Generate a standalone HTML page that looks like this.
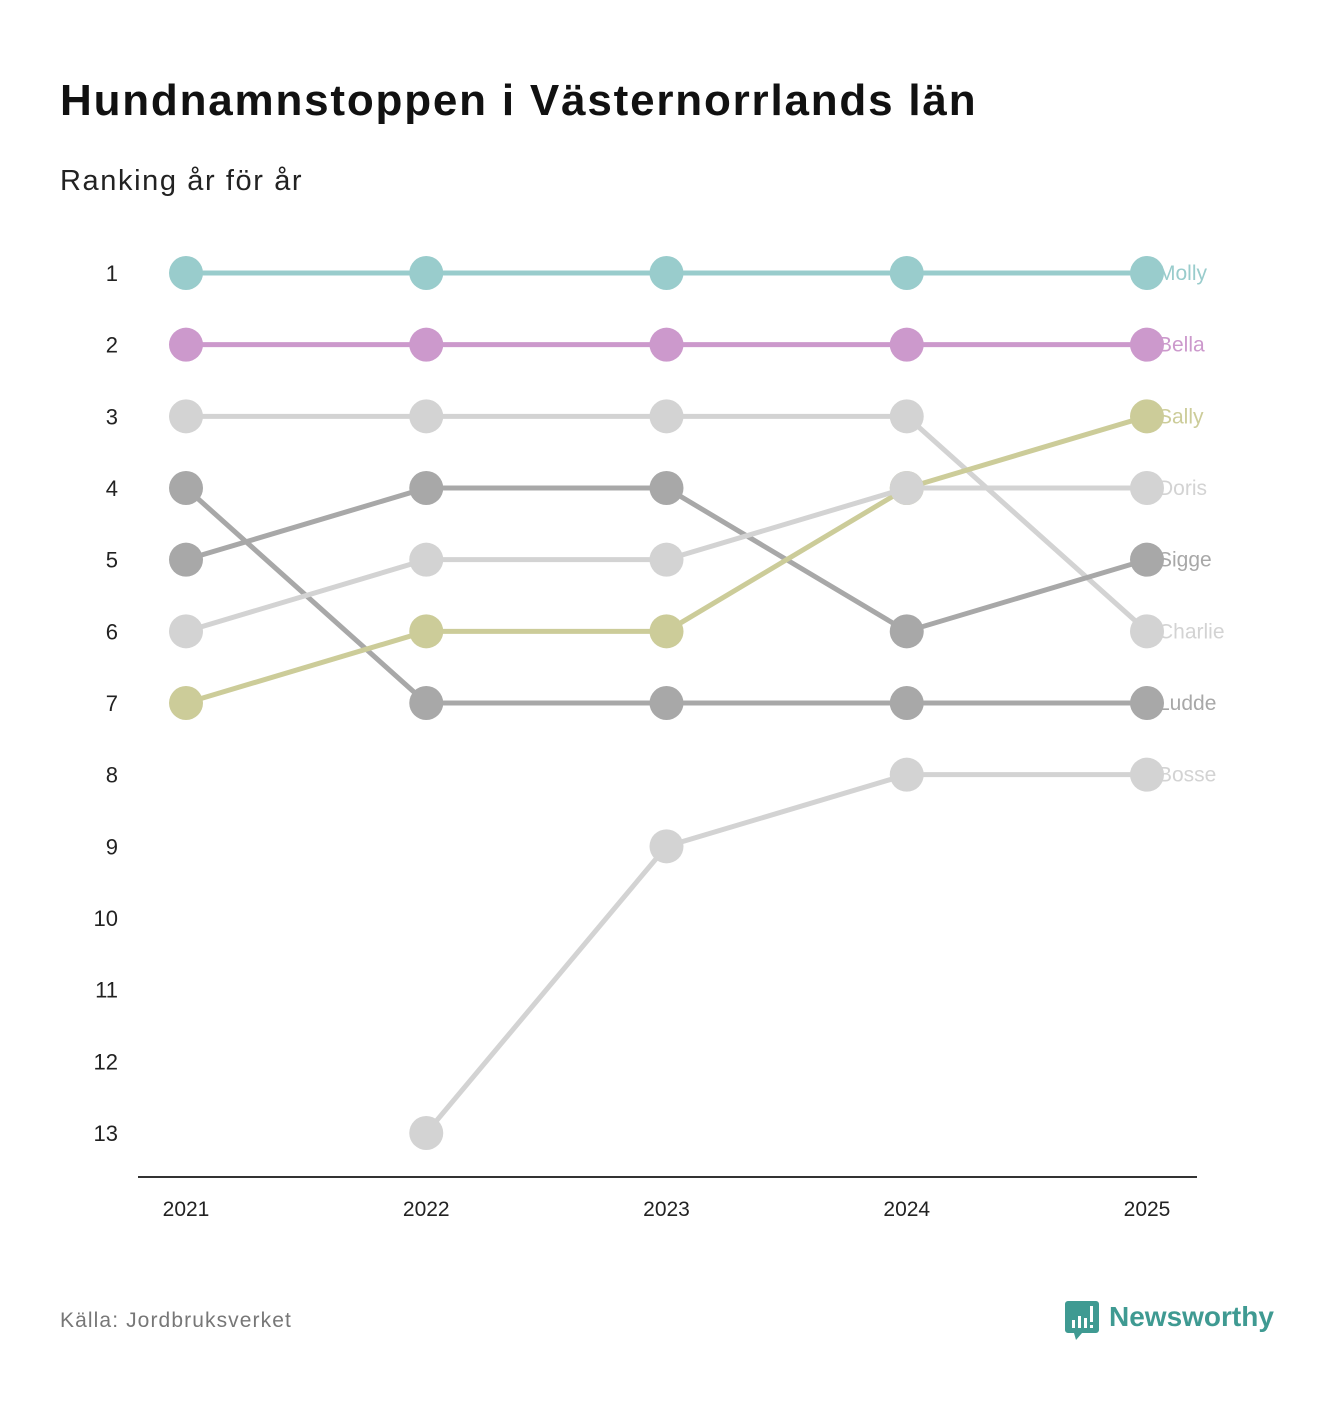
<!DOCTYPE html>
<html><head><meta charset="utf-8"><style>
body{margin:0;background:#fff;width:1333px;height:1400px;overflow:hidden;font-family:"Liberation Sans","DejaVu Sans",sans-serif}
</style></head><body>
<svg width="1333" height="1400" xmlns="http://www.w3.org/2000/svg">
<text x="60" y="115" font-size="44" font-weight="bold" fill="#111" letter-spacing="1.8">Hundnamnstoppen i Västernorrlands län</text>
<text x="60" y="190" font-size="29" fill="#222" letter-spacing="1.6">Ranking år för år</text>
<g id="yaxis"></g>
<line x1="138" y1="1177" x2="1197" y2="1177" stroke="#333" stroke-width="2"/>
<g id="xaxis"></g>
<g id="lines"></g>
<g id="labels"></g>
<text x="60" y="1327" font-size="21" fill="#777" letter-spacing="1.1">Källa: Jordbruksverket</text>
<g>
<path d="M1068 1301 h28 a3 3 0 0 1 3 3 v26 a3 3 0 0 1 -3 3 h-14 l-6 7 l-2 -7 h-6 a3 3 0 0 1 -3 -3 v-26 a3 3 0 0 1 3 -3z" fill="#3f9a92"/>
<rect x="1072" y="1320" width="3" height="8" fill="#fff"/><rect x="1078" y="1316" width="3" height="12" fill="#fff"/><rect x="1084" y="1318" width="3" height="10" fill="#fff"/><rect x="1090" y="1306" width="3" height="16" fill="#fff"/><rect x="1090" y="1325" width="3" height="3" fill="#fff"/>
<text x="1109" y="1326" font-size="28" font-weight="bold" fill="#3f9a92">Newsworthy</text>
</g>
</svg>
<script>
const years=[2021,2022,2023,2024,2025];
const ranks=[1,2,3,4,5,6,7,8,9,10,11,12,13];
const names=["Charlie","Bosse","Ludde","Sigge","Sally","Doris","Bella","Molly"];
const colors=["#d3d3d3","#d3d3d3","#a8a8a8","#a8a8a8","#cccc99","#d3d3d3","#cc99cc","#99cccc"];
const charlie=[3,3,3,3,6];
const bosse=[null,13,9,8,8];
const ludde=[4,7,7,7,7];
const sigge=[5,4,4,6,5];
const sally=[7,6,6,4,3];
const doris=[6,5,5,4,4];
const bella=[2,2,2,2,2];
const molly=[1,1,1,1,1];
const series=[charlie,bosse,ludde,sigge,sally,doris,bella,molly];
const NS="http://www.w3.org/2000/svg";
function x(i){return 186+i*(1147-186)/(years.length-1);}
function y(r){return 273+(r-1)*(1133-273)/12;}
function mk(t,a,p){const e=document.createElementNS(NS,t);for(const k in a)e.setAttribute(k,a[k]);p.appendChild(e);return e;}
const ya=document.getElementById('yaxis');
ranks.forEach(r=>{const t=mk('text',{x:118,y:y(r)+8,'font-size':22,'text-anchor':'end',fill:'#222'},ya);t.textContent=r;

});
const xa=document.getElementById('xaxis');
years.forEach((yr,i)=>{const t=mk('text',{x:x(i),y:1216,'font-size':21,'text-anchor':'middle',fill:'#222'},xa);t.textContent=yr;

});
const lg=document.getElementById('lines');
const lb=document.getElementById('labels');
series.forEach((s,k)=>{const g=mk('g',{},lg);


let d='';s.forEach((v,i)=>{if(v==null)return;d+=(d?'L':'M')+x(i)+' '+y(v);});
const p=mk('path',{d:d,fill:'none',stroke:colors[k],'stroke-width':5},g);


s.forEach((v,i)=>{if(v==null)return;const c=mk('circle',{cx:x(i),cy:y(v),r:17,fill:colors[k]},g);

});
const last=s[s.length-1];const t=mk('text',{x:x(s.length-1)+11,y:y(last)+7,'font-size':21,fill:colors[k]},lb);t.textContent=names[k];

});
</script>
</body></html>
